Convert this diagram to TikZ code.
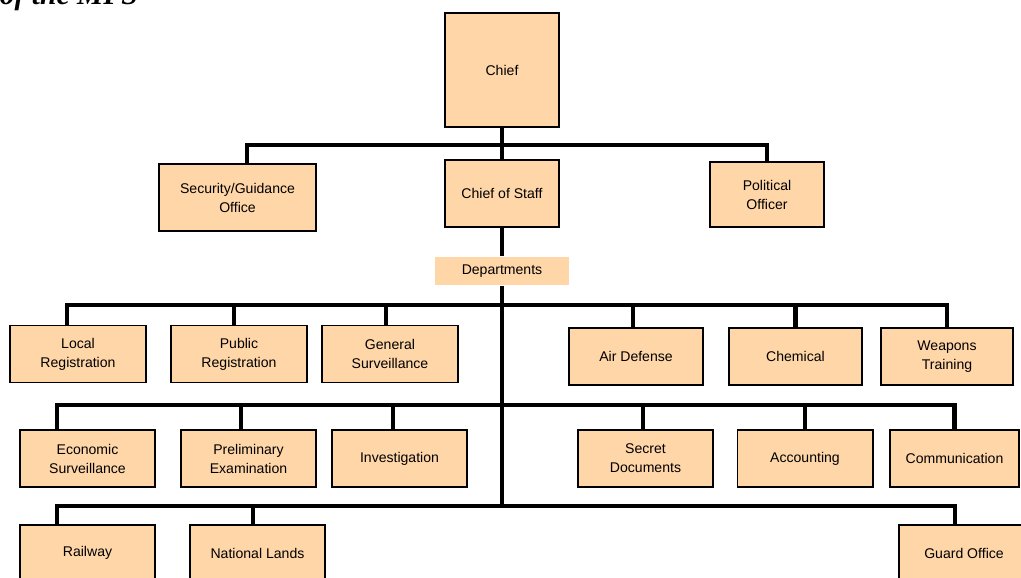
\documentclass[tikz,border=0pt]{standalone}
\usepackage{fontspec}
\setmainfont{Liberation Sans}
\newfontfamily\headfont{Liberation Serif}
\usetikzlibrary{calc}
\definecolor{unitfill}{RGB}{255,214,168}

\begin{document}
\begin{tikzpicture}[x=0.025cm, y=-0.025cm,
        unit/.style={draw=black, line width=1.4pt, fill=unitfill, align=center, inner sep=0pt,
            minimum width=3.375cm, minimum height=1.425cm, font=\fontsize{10}{13.5}\selectfont},
        link/.style={line width=3pt}]
        \useasboundingbox (0,0) rectangle (1021,578);
        \clip (0,0) rectangle (1021,578);
        \node[anchor=base east, inner sep=0pt, font={\headfont\fontsize{21}{24}\selectfont\bfseries\itshape}] (heading) at (138,5) {of the MPS};
        % command level
        \node[unit, minimum width=2.85cm, minimum height=2.85cm] (chief) at (502,70) {Chief};
        \node[unit, minimum width=2.85cm, minimum height=1.675cm] (staff) at (502,193.5) {Chief of Staff};
        \node[unit, minimum width=3.925cm, minimum height=1.675cm] (security) at (237.5,197.5) {Security/Guidance\\Office};
        \node[unit, minimum width=2.85cm, minimum height=1.625cm] (political) at (767,194.5) {Political\\Officer};
        \node[unit, draw=none, minimum width=3.35cm, minimum height=0.7cm] (depts) at (502,271) {Departments};
        % first row
        \node[unit, minimum width=3.4cm] (localreg) at (78,354) {Local\\Registration};
        \node[unit, minimum width=3.4cm] (publicreg) at (239,354) {Public\\Registration};
        \node[unit, minimum width=3.4cm] (gensurv) at (390,354) {General\\Surveillance};
        \node[unit, minimum width=3.35cm] (airdef) at (636,356.5) {Air Defense};
        \node[unit, minimum width=3.325cm] (chemical) at (795.5,356.5) {Chemical};
        \node[unit, minimum width=3.3cm] (weapons) at (947,356.5) {Weapons\\Training};
        % second row
        \node[unit] (econsurv) at (87.5,458.5) {Economic\\Surveillance};
        \node[unit] (prelim) at (248.5,458.5) {Preliminary\\Examination};
        \node[unit] (invest) at (399.5,458.5) {Investigation};
        \node[unit] (secret) at (645.5,458.5) {Secret\\Documents};
        \node[unit] (account) at (805,458.5) {Accounting};
        \node[unit, minimum width=3.225cm] (comm) at (954.5,458.5) {Communication};
        % third row
        \node[unit, minimum height=1.4cm] (railway) at (87.5,553) {Railway};
        \node[unit, minimum height=1.4cm] (natlands) at (257.5,553) {National Lands};
        \node[unit, minimum width=3.25cm, minimum height=1.4cm] (guard) at (964,553) {Guard Office};
        % connectors
        \coordinate (bar0) at (502,145);
        \coordinate (bar1) at (502,305);
        \coordinate (bar2) at (502,405);
        \coordinate (bar3) at (502,506);
        \draw[link] (chief.south) -- (staff.north);
        \draw[link] ($(security.north)+(9.5,0)$) |- (bar0) -| (political.north);
        \draw[link] (staff.south) -- (depts.north);
        \draw[link] (depts.south) -- (bar3);
        \draw[link] ($(localreg.north)+(-11,0)$) |- (bar1) -| (weapons.north);
        \draw[link] ($(publicreg.north)+(-5,0)$) -- ($(publicreg.north |- bar1)+(-5,0)$);
        \draw[link] ($(gensurv.north)+(-4,0)$) -- ($(gensurv.north |- bar1)+(-4,0)$);
        \draw[link] ($(airdef.north)+(-3,0)$) -- ($(airdef.north |- bar1)+(-3,0)$);
        \draw[link] (chemical.north) -- (chemical.north |- bar1);
        \draw[link] ($(econsurv.north)+(-30.5,0)$) |- (bar2) -| (comm.north);
        \draw[link] ($(prelim.north)+(-7.5,0)$) -- ($(prelim.north |- bar2)+(-7.5,0)$);
        \draw[link] ($(invest.north)+(-6.5,0)$) -- ($(invest.north |- bar2)+(-6.5,0)$);
        \draw[link] ($(secret.north)+(-2.5,0)$) -- ($(secret.north |- bar2)+(-2.5,0)$);
        \draw[link] (account.north) -- (account.north |- bar2);
        \draw[link] ($(railway.north)+(-30.5,0)$) |- (bar3) -| ($(guard.north)+(-9,0)$);
        \draw[link] ($(natlands.north)+(-4.5,0)$) -- ($(natlands.north |- bar3)+(-4.5,0)$);
    \end{tikzpicture}
\end{document}
